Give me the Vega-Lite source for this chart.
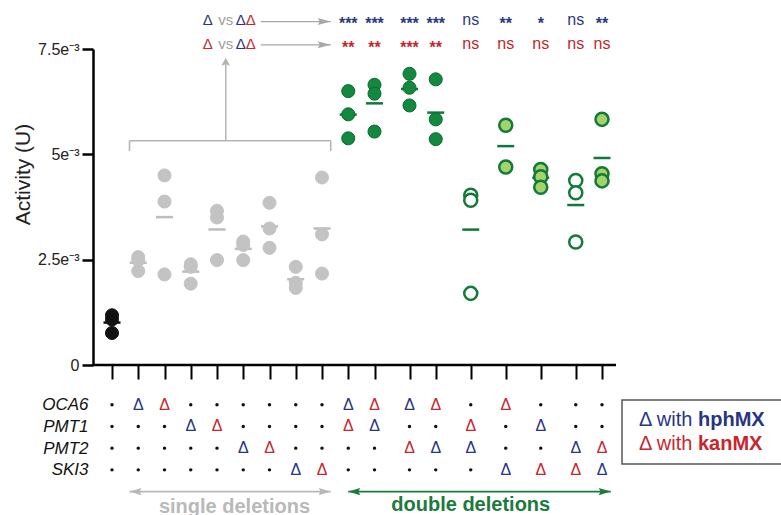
{
  "$schema": "https://vega.github.io/schema/vega-lite/v6.json",
  "padding": {"left": 12, "top": 11, "right": 0, "bottom": 0},
  "config": {
    "view": {"stroke": null},
    "font": "Liberation Sans",
    "text": {"font": "Liberation Sans"},
    "axis": {"labelFont": "Liberation Sans", "titleFont": "Liberation Sans"}
  },
  "datasets": {
    "act": [
      {"g": "WT", "cls": "wt", "v": 0.00118}, {"g": "WT", "cls": "wt", "v": 0.00108}, {"g": "WT", "cls": "wt", "v": 0.00076},
      {"g": "oca6-h", "cls": "single", "v": 0.00256}, {"g": "oca6-h", "cls": "single", "v": 0.00249}, {"g": "oca6-h", "cls": "single", "v": 0.00223},
      {"g": "oca6-k", "cls": "single", "v": 0.0045}, {"g": "oca6-k", "cls": "single", "v": 0.00388}, {"g": "oca6-k", "cls": "single", "v": 0.00215},
      {"g": "pmt1-h", "cls": "single", "v": 0.00239}, {"g": "pmt1-h", "cls": "single", "v": 0.00233}, {"g": "pmt1-h", "cls": "single", "v": 0.00193},
      {"g": "pmt1-k", "cls": "single", "v": 0.00366}, {"g": "pmt1-k", "cls": "single", "v": 0.0035}, {"g": "pmt1-k", "cls": "single", "v": 0.00249},
      {"g": "pmt2-h", "cls": "single", "v": 0.00293}, {"g": "pmt2-h", "cls": "single", "v": 0.00285}, {"g": "pmt2-h", "cls": "single", "v": 0.00249},
      {"g": "pmt2-k", "cls": "single", "v": 0.00385}, {"g": "pmt2-k", "cls": "single", "v": 0.00324}, {"g": "pmt2-k", "cls": "single", "v": 0.00278},
      {"g": "ski3-h", "cls": "single", "v": 0.00233}, {"g": "ski3-h", "cls": "single", "v": 0.00195}, {"g": "ski3-h", "cls": "single", "v": 0.00183},
      {"g": "ski3-k", "cls": "single", "v": 0.00445}, {"g": "ski3-k", "cls": "single", "v": 0.0031}, {"g": "ski3-k", "cls": "single", "v": 0.00217},
      {"g": "oca6h-pmt1k", "cls": "solid", "v": 0.0065}, {"g": "oca6h-pmt1k", "cls": "solid", "v": 0.00595}, {"g": "oca6h-pmt1k", "cls": "solid", "v": 0.00538},
      {"g": "oca6k-pmt1h", "cls": "solid", "v": 0.00665}, {"g": "oca6k-pmt1h", "cls": "solid", "v": 0.00644}, {"g": "oca6k-pmt1h", "cls": "solid", "v": 0.00554},
      {"g": "oca6h-pmt2k", "cls": "solid", "v": 0.00691}, {"g": "oca6h-pmt2k", "cls": "solid", "v": 0.00658}, {"g": "oca6h-pmt2k", "cls": "solid", "v": 0.00616},
      {"g": "oca6k-pmt2h", "cls": "solid", "v": 0.00678}, {"g": "oca6k-pmt2h", "cls": "solid", "v": 0.00583}, {"g": "oca6k-pmt2h", "cls": "solid", "v": 0.00536},
      {"g": "pmt1k-pmt2h", "cls": "open", "v": 0.00403}, {"g": "pmt1k-pmt2h", "cls": "open", "v": 0.00391}, {"g": "pmt1k-pmt2h", "cls": "open", "v": 0.0017},
      {"g": "oca6k-ski3h", "cls": "light", "v": 0.00569}, {"g": "oca6k-ski3h", "cls": "light", "v": 0.0047},
      {"g": "pmt1h-ski3k", "cls": "light", "v": 0.00464}, {"g": "pmt1h-ski3k", "cls": "light", "v": 0.00447}, {"g": "pmt1h-ski3k", "cls": "light", "v": 0.00422},
      {"g": "pmt2h-ski3k", "cls": "open", "v": 0.00438}, {"g": "pmt2h-ski3k", "cls": "open", "v": 0.00409}, {"g": "pmt2h-ski3k", "cls": "open", "v": 0.00292},
      {"g": "pmt2k-ski3h", "cls": "light", "v": 0.00583}, {"g": "pmt2k-ski3h", "cls": "light", "v": 0.00454}, {"g": "pmt2k-ski3h", "cls": "light", "v": 0.00437}
    ],
    "geno": [
      {"g": "WT", "OCA6": "+", "PMT1": "+", "PMT2": "+", "SKI3": "+"},
      {"g": "oca6-h", "OCA6": "hph", "PMT1": "+", "PMT2": "+", "SKI3": "+"},
      {"g": "oca6-k", "OCA6": "kan", "PMT1": "+", "PMT2": "+", "SKI3": "+"},
      {"g": "pmt1-h", "OCA6": "+", "PMT1": "hph", "PMT2": "+", "SKI3": "+"},
      {"g": "pmt1-k", "OCA6": "+", "PMT1": "kan", "PMT2": "+", "SKI3": "+"},
      {"g": "pmt2-h", "OCA6": "+", "PMT1": "+", "PMT2": "hph", "SKI3": "+"},
      {"g": "pmt2-k", "OCA6": "+", "PMT1": "+", "PMT2": "kan", "SKI3": "+"},
      {"g": "ski3-h", "OCA6": "+", "PMT1": "+", "PMT2": "+", "SKI3": "hph"},
      {"g": "ski3-k", "OCA6": "+", "PMT1": "+", "PMT2": "+", "SKI3": "kan"},
      {"g": "oca6h-pmt1k", "OCA6": "hph", "PMT1": "kan", "PMT2": "+", "SKI3": "+"},
      {"g": "oca6k-pmt1h", "OCA6": "kan", "PMT1": "hph", "PMT2": "+", "SKI3": "+"},
      {"g": "oca6h-pmt2k", "OCA6": "hph", "PMT1": "+", "PMT2": "kan", "SKI3": "+"},
      {"g": "oca6k-pmt2h", "OCA6": "kan", "PMT1": "+", "PMT2": "hph", "SKI3": "+"},
      {"g": "pmt1k-pmt2h", "OCA6": "+", "PMT1": "kan", "PMT2": "hph", "SKI3": "+"},
      {"g": "oca6k-ski3h", "OCA6": "kan", "PMT1": "+", "PMT2": "+", "SKI3": "hph"},
      {"g": "pmt1h-ski3k", "OCA6": "+", "PMT1": "hph", "PMT2": "+", "SKI3": "kan"},
      {"g": "pmt2h-ski3k", "OCA6": "+", "PMT1": "+", "PMT2": "hph", "SKI3": "kan"},
      {"g": "pmt2k-ski3h", "OCA6": "+", "PMT1": "+", "PMT2": "kan", "SKI3": "hph"}
    ],
    "sig": [
      {"g": "oca6h-pmt1k", "cmp": "hph", "s": "***"}, {"g": "oca6k-pmt1h", "cmp": "hph", "s": "***"},
      {"g": "oca6h-pmt2k", "cmp": "hph", "s": "***"}, {"g": "oca6k-pmt2h", "cmp": "hph", "s": "***"},
      {"g": "pmt1k-pmt2h", "cmp": "hph", "s": "ns"}, {"g": "oca6k-ski3h", "cmp": "hph", "s": "**"},
      {"g": "pmt1h-ski3k", "cmp": "hph", "s": "*"}, {"g": "pmt2h-ski3k", "cmp": "hph", "s": "ns"},
      {"g": "pmt2k-ski3h", "cmp": "hph", "s": "**"},
      {"g": "oca6h-pmt1k", "cmp": "kan", "s": "**"}, {"g": "oca6k-pmt1h", "cmp": "kan", "s": "**"},
      {"g": "oca6h-pmt2k", "cmp": "kan", "s": "***"}, {"g": "oca6k-pmt2h", "cmp": "kan", "s": "**"},
      {"g": "pmt1k-pmt2h", "cmp": "kan", "s": "ns"}, {"g": "oca6k-ski3h", "cmp": "kan", "s": "ns"},
      {"g": "pmt1h-ski3k", "cmp": "kan", "s": "ns"}, {"g": "pmt2h-ski3k", "cmp": "kan", "s": "ns"},
      {"g": "pmt2k-ski3h", "cmp": "kan", "s": "ns"}
    ],
    "leg": [
      {"a": "hph", "t1": "Δ with", "t2": "hphMX"},
      {"a": "kan", "t1": "Δ with", "t2": "kanMX"}
    ]
  },
  "columns": 2,
  "spacing": {"row": 15, "column": 3},
  "align": "each",
  "resolve": {"scale": {"x": "shared", "y": "independent", "color": "independent", "fill": "independent", "stroke": "independent"}},
  "concat": [
    {
      "width": 523,
      "height": 316,
      "layer": [
        {
          "data": {"name": "act"},
          "mark": {"type": "tick", "size": 17, "thickness": 2.5, "opacity": 1},
          "encoding": {
            "x": {
              "field": "g", "type": "nominal",
              "scale": {
                "type": "point", "padding": 0, "range": [19, 517.75],
                "domain": ["WT", "s1", "s2", "oca6-h", "s4", "s5", "oca6-k", "s7", "s8", "pmt1-h", "s10", "s11", "pmt1-k", "s13", "s14", "pmt2-h", "s16", "s17", "pmt2-k", "s19", "s20", "ski3-h", "s22", "s23", "ski3-k", "s25", "s26", "oca6h-pmt1k", "s28", "s29", "oca6k-pmt1h", "s31", "s32", "s33", "oca6h-pmt2k", "s35", "s36", "oca6k-pmt2h", "s38", "s39", "s40", "pmt1k-pmt2h", "s42", "s43", "s44", "oca6k-ski3h", "s46", "s47", "s48", "pmt1h-ski3k", "s50", "s51", "s52", "pmt2h-ski3k", "s54", "s55", "pmt2k-ski3h", "s57"]
              },
              "axis": {
                "values": ["WT", "oca6-h", "oca6-k", "pmt1-h", "pmt1-k", "pmt2-h", "pmt2-k", "ski3-h", "ski3-k", "oca6h-pmt1k", "oca6k-pmt1h", "oca6h-pmt2k", "oca6k-pmt2h", "pmt1k-pmt2h", "oca6k-ski3h", "pmt1h-ski3k", "pmt2h-ski3k", "pmt2k-ski3h"],
                "labels": false, "domain": false, "ticks": true, "tickSize": 14, "tickWidth": 2, "tickColor": "#000000", "title": null, "grid": false
              }
            },
            "y": {
              "aggregate": "mean", "field": "v", "type": "quantitative",
              "scale": {"domain": [0, 0.0075], "nice": false},
              "axis": {
                "values": [0, 0.0025, 0.005, 0.0075],
                "labelExpr": "datum.value < 0.001 ? '0' : datum.value < 0.003 ? '2.5e⁻³' : datum.value < 0.006 ? '5e⁻³' : '7.5e⁻³'",
                "title": "Activity (U)", "titleFontSize": 21, "titleFontWeight": "normal", "titleColor": "#222222",
                "titlePadding": 4, "titleY": 125,
                "labelFontSize": 16, "labelColor": "#222222", "labelPadding": 3, "labelFlush": false,
                "tickSize": 11, "tickWidth": 2.5, "tickColor": "#000000",
                "domainColor": "#000000", "domainWidth": 2.5, "grid": false
              }
            },
            "color": {
              "field": "cls", "type": "nominal",
              "scale": {"domain": ["wt", "single", "solid", "light", "open"], "range": ["#111111", "#bdbdbd", "#10783a", "#10783a", "#10783a"]},
              "legend": null
            }
          }
        },
        {
          "data": {"name": "act"},
          "mark": {"type": "circle", "size": 170, "opacity": 1},
          "encoding": {
            "x": {"field": "g", "type": "nominal"},
            "y": {"field": "v", "type": "quantitative"},
            "fill": {
              "field": "cls", "type": "nominal",
              "scale": {"domain": ["wt", "single", "solid", "light", "open"], "range": ["#111111", "#c3c3c3", "#12893f", "#a3d36b", "#ffffff"]},
              "legend": null
            },
            "stroke": {
              "field": "cls", "type": "nominal",
              "scale": {"domain": ["wt", "single", "solid", "light", "open"], "range": ["#111111", "#c3c3c3", "#0a6a30", "#137a3a", "#137a3a"]},
              "legend": null
            },
            "strokeWidth": {"condition": {"test": "datum.cls == 'light' || datum.cls == 'open'", "value": 2.5}, "value": 1}
          }
        },
        {
          "data": {"values": [{}]},
          "mark": {"type": "rule", "color": "#000000", "strokeWidth": 2.5},
          "encoding": {"y": {"datum": 0}}
        },
        {
          "data": {"values": [{}]},
          "mark": {"type": "rule", "color": "#b3b3b3", "strokeWidth": 1.5},
          "encoding": {"x": {"datum": "s2"}, "x2": {"datum": "s25"}, "y": {"datum": 0.00532}}
        },
        {
          "data": {"values": [{}]},
          "mark": {"type": "rule", "color": "#b3b3b3", "strokeWidth": 1.5},
          "encoding": {"x": {"datum": "s2"}, "y": {"datum": 0.00532}, "y2": {"datum": 0.00508}}
        },
        {
          "data": {"values": [{}]},
          "mark": {"type": "rule", "color": "#b3b3b3", "strokeWidth": 1.5},
          "encoding": {"x": {"datum": "s25"}, "y": {"datum": 0.00532}, "y2": {"datum": 0.00508}}
        },
        {
          "data": {"values": [{}]},
          "mark": {"type": "rule", "color": "#b3b3b3", "strokeWidth": 1.5},
          "encoding": {"x": {"datum": "s13"}, "y": {"datum": 0.00532}, "y2": {"datum": 0.00715}}
        },
        {
          "data": {"values": [{}]},
          "mark": {"type": "point", "filled": true, "opacity": 1, "color": "#b3b3b3", "size": 256, "shape": "M 0 0 L 0.55 1 L 0 0.8 L -0.55 1 Z"},
          "encoding": {"x": {"datum": "s13"}, "y": {"datum": 0.00729}}
        },
        {
          "data": {"values": [{}]},
          "mark": {"type": "rule", "color": "#a8a8a8", "strokeWidth": 1.3},
          "encoding": {"x": {"datum": "s17"}, "x2": {"datum": "s25"}, "y": {"datum": 0.00815}}
        },
        {
          "data": {"values": [{}]},
          "mark": {"type": "rule", "color": "#a8a8a8", "strokeWidth": 1.3},
          "encoding": {"x": {"datum": "s17"}, "x2": {"datum": "s25"}, "y": {"datum": 0.0076}}
        },
        {
          "data": {"values": [{}]},
          "mark": {"type": "point", "filled": true, "opacity": 1, "color": "#a8a8a8", "size": 676, "shape": "M 0 0 L -1 -0.27 L -0.85 0 L -1 0.27 Z"},
          "encoding": {"x": {"datum": "s25"}, "y": {"datum": 0.00815}}
        },
        {
          "data": {"values": [{}]},
          "mark": {"type": "point", "filled": true, "opacity": 1, "color": "#a8a8a8", "size": 676, "shape": "M 0 0 L -1 -0.27 L -0.85 0 L -1 0.27 Z"},
          "encoding": {"x": {"datum": "s25"}, "y": {"datum": 0.0076}}
        },
        {
          "data": {"values": [{}]},
          "mark": {"type": "text", "text": "Δ", "fontSize": 15, "color": "#283583", "align": "right", "dx": -13, "baseline": "middle"},
          "encoding": {"x": {"datum": "s13"}, "y": {"datum": 0.00819}}
        },
        {
          "data": {"values": [{}]},
          "mark": {"type": "text", "text": "vs", "fontSize": 15, "color": "#a0a0a0", "align": "center", "baseline": "middle"},
          "encoding": {"x": {"datum": "s13"}, "y": {"datum": 0.00819}}
        },
        {
          "data": {"values": [{}]},
          "mark": {"type": "text", "text": "Δ", "fontSize": 15, "color": "#283583", "align": "left", "dx": 10, "baseline": "middle"},
          "encoding": {"x": {"datum": "s13"}, "y": {"datum": 0.00819}}
        },
        {
          "data": {"values": [{}]},
          "mark": {"type": "text", "text": "Δ", "fontSize": 15, "color": "#c8262c", "align": "left", "dx": 20, "baseline": "middle"},
          "encoding": {"x": {"datum": "s13"}, "y": {"datum": 0.00819}}
        },
        {
          "data": {"values": [{}]},
          "mark": {"type": "text", "text": "Δ", "fontSize": 15, "color": "#c8262c", "align": "right", "dx": -13, "baseline": "middle"},
          "encoding": {"x": {"datum": "s13"}, "y": {"datum": 0.00761}}
        },
        {
          "data": {"values": [{}]},
          "mark": {"type": "text", "text": "vs", "fontSize": 15, "color": "#a0a0a0", "align": "center", "baseline": "middle"},
          "encoding": {"x": {"datum": "s13"}, "y": {"datum": 0.00761}}
        },
        {
          "data": {"values": [{}]},
          "mark": {"type": "text", "text": "Δ", "fontSize": 15, "color": "#283583", "align": "left", "dx": 10, "baseline": "middle"},
          "encoding": {"x": {"datum": "s13"}, "y": {"datum": 0.00761}}
        },
        {
          "data": {"values": [{}]},
          "mark": {"type": "text", "text": "Δ", "fontSize": 15, "color": "#c8262c", "align": "left", "dx": 20, "baseline": "middle"},
          "encoding": {"x": {"datum": "s13"}, "y": {"datum": 0.00761}}
        },
        {
          "data": {"name": "sig"},
          "transform": [{"filter": "datum.cmp == 'hph' && datum.s != 'ns'"}],
          "mark": {"type": "text", "fontSize": 16, "fontWeight": "bold", "color": "#2b3a7e", "baseline": "middle", "dy": 4},
          "encoding": {"x": {"field": "g", "type": "nominal"}, "y": {"datum": 0.00819}, "text": {"field": "s"}}
        },
        {
          "data": {"name": "sig"},
          "transform": [{"filter": "datum.cmp == 'hph' && datum.s == 'ns'"}],
          "mark": {"type": "text", "fontSize": 16, "color": "#2b3a7e", "baseline": "middle"},
          "encoding": {"x": {"field": "g", "type": "nominal"}, "y": {"datum": 0.00819}, "text": {"field": "s"}}
        },
        {
          "data": {"name": "sig"},
          "transform": [{"filter": "datum.cmp == 'kan' && datum.s != 'ns'"}],
          "mark": {"type": "text", "fontSize": 16, "fontWeight": "bold", "color": "#c0282d", "baseline": "middle", "dy": 4},
          "encoding": {"x": {"field": "g", "type": "nominal"}, "y": {"datum": 0.00761}, "text": {"field": "s"}}
        },
        {
          "data": {"name": "sig"},
          "transform": [{"filter": "datum.cmp == 'kan' && datum.s == 'ns'"}],
          "mark": {"type": "text", "fontSize": 16, "color": "#c0282d", "baseline": "middle"},
          "encoding": {"x": {"field": "g", "type": "nominal"}, "y": {"datum": 0.00761}, "text": {"field": "s"}}
        }
      ]
    },
    {
      "width": 1,
      "height": 1,
      "data": {"values": []},
      "mark": {"type": "point", "opacity": 0}
    },
    {
      "width": 523,
      "height": 118,
      "layer": [
        {
          "data": {"name": "geno"},
          "transform": [{"fold": ["OCA6", "PMT1", "PMT2", "SKI3"], "as": ["gene", "allele"]}, {"filter": "datum.allele != '+'"}],
          "mark": {"type": "text", "text": "Δ", "fontSize": 16, "baseline": "middle"},
          "encoding": {
            "x": {"field": "g", "type": "nominal", "axis": null},
            "y": {
              "field": "gene", "type": "nominal",
              "scale": {"type": "point", "domain": ["OCA6", "PMT1", "PMT2", "SKI3", "arrow", "label"], "padding": 0.215},
              "axis": {"values": ["OCA6", "PMT1", "PMT2", "SKI3"], "title": null, "domain": false, "ticks": false, "labelFontSize": 17, "labelFontStyle": "italic", "labelColor": "#111111", "labelPadding": 5}
            },
            "color": {"field": "allele", "type": "nominal", "scale": {"domain": ["hph", "kan"], "range": ["#283583", "#c8262c"]}, "legend": null}
          }
        },
        {
          "data": {"name": "geno"},
          "transform": [{"fold": ["OCA6", "PMT1", "PMT2", "SKI3"], "as": ["gene", "allele"]}, {"filter": "datum.allele == '+'"}],
          "mark": {"type": "circle", "size": 12, "color": "#111111", "opacity": 1},
          "encoding": {
            "x": {"field": "g", "type": "nominal", "axis": null},
            "y": {"field": "gene", "type": "nominal"}
          }
        },
        {
          "data": {"values": [{}]},
          "mark": {"type": "rule", "color": "#b8b8b8", "strokeWidth": 1.6},
          "encoding": {"x": {"datum": "s2"}, "x2": {"datum": "s25"}, "y": {"datum": "arrow"}}
        },
        {
          "data": {"values": [{}]},
          "mark": {"type": "point", "filled": true, "opacity": 1, "color": "#b8b8b8", "size": 576, "shape": "M 0 0 L 1 -0.3 L 0.85 0 L 1 0.3 Z"},
          "encoding": {"x": {"datum": "s2"}, "y": {"datum": "arrow"}}
        },
        {
          "data": {"values": [{}]},
          "mark": {"type": "point", "filled": true, "opacity": 1, "color": "#b8b8b8", "size": 576, "shape": "M 0 0 L -1 -0.3 L -0.85 0 L -1 0.3 Z"},
          "encoding": {"x": {"datum": "s25"}, "y": {"datum": "arrow"}}
        },
        {
          "data": {"values": [{}]},
          "mark": {"type": "rule", "color": "#1a7b3c", "strokeWidth": 1.6},
          "encoding": {"x": {"datum": "oca6h-pmt1k"}, "x2": {"datum": "s57"}, "y": {"datum": "arrow"}}
        },
        {
          "data": {"values": [{}]},
          "mark": {"type": "point", "filled": true, "opacity": 1, "color": "#1a7b3c", "size": 576, "shape": "M 0 0 L 1 -0.3 L 0.85 0 L 1 0.3 Z"},
          "encoding": {"x": {"datum": "oca6h-pmt1k"}, "y": {"datum": "arrow"}}
        },
        {
          "data": {"values": [{}]},
          "mark": {"type": "point", "filled": true, "opacity": 1, "color": "#1a7b3c", "size": 576, "shape": "M 0 0 L -1 -0.3 L -0.85 0 L -1 0.3 Z"},
          "encoding": {"x": {"datum": "s57"}, "y": {"datum": "arrow"}}
        },
        {
          "data": {"values": [{}]},
          "mark": {"type": "text", "text": "single deletions", "fontSize": 20, "fontWeight": "bold", "color": "#b9b9b9", "baseline": "alphabetic"},
          "encoding": {"x": {"datum": "s14"}, "y": {"datum": "label"}}
        },
        {
          "data": {"values": [{}]},
          "mark": {"type": "text", "text": "double deletions", "fontSize": 20, "fontWeight": "bold", "color": "#1a7b3c", "baseline": "alphabetic", "dy": -2},
          "encoding": {"x": {"datum": "pmt1k-pmt2h"}, "y": {"datum": "label"}}
        }
      ]
    },
    {
      "width": 158,
      "height": 64,
      "view": {"stroke": "#555555", "strokeWidth": 1.5},
      "data": {"name": "leg"},
      "encoding": {
        "x": {"datum": "WT", "axis": null},
        "y": {"field": "a", "type": "nominal", "scale": {"type": "point", "padding": 0.833}, "axis": null},
        "color": {"field": "a", "type": "nominal", "scale": {"domain": ["hph", "kan"], "range": ["#283583", "#c8262c"]}, "legend": null}
      },
      "layer": [
        {
          "mark": {"type": "text", "align": "left", "dx": -2, "fontSize": 20, "baseline": "middle"},
          "encoding": {"text": {"field": "t1"}}
        },
        {
          "mark": {"type": "text", "align": "left", "dx": 57, "fontSize": 20, "fontWeight": "bold", "baseline": "middle"},
          "encoding": {"text": {"field": "t2"}}
        }
      ]
    }
  ]
}
